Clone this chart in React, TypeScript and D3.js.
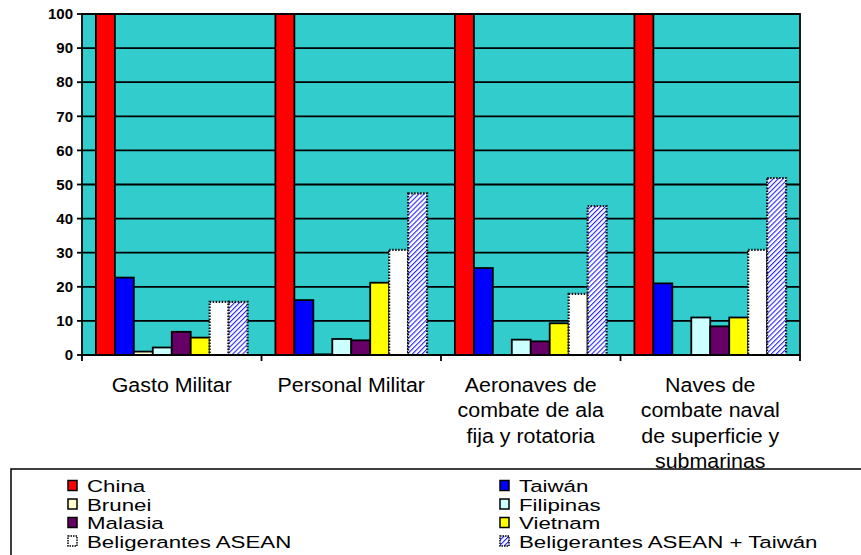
import React from 'react';
import * as d3 from 'd3';

// Datos (índice, China = 100)
const categories = ['Gasto Militar', 'Personal Militar', 'Aeronaves', 'Naves'];
const categoryLines = [
  ['Gasto Militar'],
  ['Personal Militar'],
  ['Aeronaves de', 'combate de ala', 'fija y rotatoria'],
  ['Naves de', 'combate naval', 'de superficie y', 'submarinas'],
];
const seriesNames = [
  'China', 'Taiwán', 'Brunei', 'Filipinas', 'Malasia', 'Vietnam',
  'Beligerantes ASEAN', 'Beligerantes ASEAN + Taiwán',
];
const china = [100, 100, 100, 100];
const taiwan = [22.7, 16.1, 25.5, 21.0];
const brunei = [1.0, 0.2, 0, 0];
const filipinas = [2.2, 4.7, 4.5, 11.0];
const malasia = [6.8, 4.3, 4.0, 8.4];
const vietnam = [5.1, 21.2, 9.3, 11.0];
const asean = [15.6, 30.8, 17.9, 30.8];
const aseanTaiwan = [15.6, 47.4, 43.7, 51.9];
const yTicks = [0, 10, 20, 30, 40, 50, 60, 70, 80, 90, 100];

const seriesValues = [china, taiwan, brunei, filipinas, malasia, vietnam, asean, aseanTaiwan];
const fills = ['#FF0000', '#0000FF', '#FFFFCC', '#CCFFFF', '#660066', '#FFFF00', '#FFFFFF', 'url(#hatch)'];
const dotted = [false, false, false, false, false, false, true, true];

const W = 861;
const H = 555;
const margin = { top: 14, right: 61, bottom: 200, left: 82 };
const FONT = '"Liberation Sans", Arial, sans-serif';

const App = () => {
  const innerW = W - margin.left - margin.right;
  const innerH = H - margin.top - margin.bottom;

  const x0 = d3.scaleBand<string>().domain(categories).range([0, innerW]).padding(0);
  const gap = x0.bandwidth() * 0.155;
  const x1 = d3.scaleBand<string>()
    .domain(seriesNames)
    .range([gap / 2, x0.bandwidth() - gap / 2])
    .padding(0);
  const y = d3.scaleLinear().domain([0, 100]).range([innerH, 0]);

  return (
    <div style={{ position: 'absolute', left: 0, top: 0 }}>
      <svg width={W} height={H} style={{ display: 'block', fontFamily: FONT }}>
        <defs>
          <pattern id="hatch" patternUnits="userSpaceOnUse" width="3.5" height="3.5"
            patternTransform="rotate(45)">
            <rect width="3.5" height="3.5" fill="#FFFFFF" />
            <line x1="0" y1="0" x2="0" y2="3.5" stroke="#2222FF" strokeWidth="2.2" />
          </pattern>
        </defs>
        <rect width={W} height={H} fill="#FFFFFF" />

        <g transform={`translate(${margin.left},${margin.top})`}>
          {/* fondo del área de trazado */}
          <rect width={innerW} height={innerH} fill="#33CCCC" />

          {/* líneas de cuadrícula */}
          {yTicks.map(t => (
            <line key={t} x1={0} x2={innerW} y1={y(t)} y2={y(t)} stroke="#000" strokeWidth={1.8} />
          ))}

          {/* barras */}
          {categories.map((c, ci) => (
            <g key={c} transform={`translate(${x0(c)},0)`}>
              {seriesNames.map((s, si) => {
                const v = seriesValues[si][ci];
                if (v <= 0) return null;
                const bx = x1(s)!;
                const by = y(v);
                return (
                  <rect key={s} x={bx} y={by} width={x1.bandwidth()} height={innerH - by}
                    fill={fills[si]}
                    stroke={dotted[si] ? '#111' : '#000'}
                    strokeWidth={dotted[si] ? 2.2 : 1.8}
                    strokeDasharray={dotted[si] ? '1.5 1.5' : undefined} />
                );
              })}
            </g>
          ))}

          {/* borde */}
          <rect width={innerW} height={innerH} fill="none" stroke="#000" strokeWidth={1.8} />

          {/* eje Y */}
          {yTicks.map(t => (
            <g key={t} transform={`translate(0,${y(t)})`}>
              <line x1={-5} x2={0} stroke="#000" strokeWidth={1.8} />
              <text x={-9} dy="0.35em" textAnchor="end" fontSize={15} fontWeight="bold" fill="#000">{t}</text>
            </g>
          ))}

          {/* eje X */}
          <line x1={0} x2={innerW} y1={innerH} y2={innerH} stroke="#000" strokeWidth={1.8} />
          {[...categories.map(c => x0(c)!), innerW].map((px, i) => (
            <line key={i} x1={px} x2={px} y1={innerH} y2={innerH + 6} stroke="#000" strokeWidth={1.8} />
          ))}
          {categories.map((c, ci) => (
            <text key={c} transform={`translate(${x0(c)! + x0.bandwidth() / 2},${innerH + 37}) scale(1.07,1)`}
              textAnchor="middle" fontSize={20} fill="#000">
              {categoryLines[ci].map((ln, li) => (
                <tspan key={li} x={0} dy={li === 0 ? 0 : 25.3}>{ln}</tspan>
              ))}
            </text>
          ))}
        </g>

        {/* leyenda */}
        <rect x={11} y={469} width={W} height={120} fill="none" stroke="#000" strokeWidth={1.5} />
        {seriesNames.map((s, si) => {
          const col = si % 2;
          const row = Math.floor(si / 2);
          const sx = col === 0 ? 68 : 500;
          const baseY = 492 + row * 18.5;
          return (
            <g key={s}>
              <rect x={sx} y={baseY - 11.5} width={9} height={10} fill={fills[si]}
                stroke="#000" strokeWidth={1.5}
                strokeDasharray={dotted[si] ? '1.5 1' : undefined} />
              <text transform={`translate(${sx + 19},${baseY}) scale(1.35,1)`} fontSize={16.5} fill="#000">{s}</text>
            </g>
          );
        })}
      </svg>
    </div>
  );
};

export default App;
